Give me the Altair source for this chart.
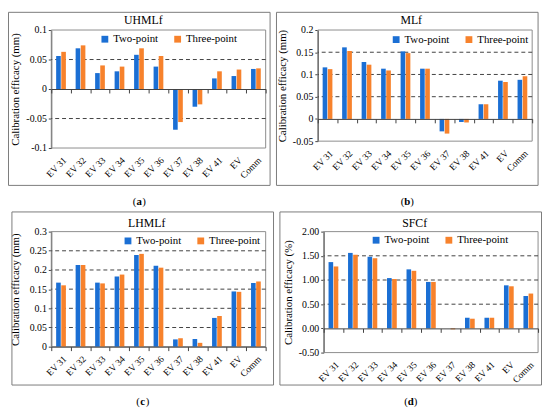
import altair as alt
import pandas as pd

categories = ["EV 31", "EV 32", "EV 33", "EV 34", "EV 35", "EV 36", "EV 37", "EV 38", "EV 41", "EV", "Comm"]
series_names = ["Two-point", "Three-point"]
series_colors = ["#1b6fd4", "#f7822c"]

panel_titles = ["UHMLf", "MLf", "LHMLf", "SFCf"]
panel_letters = ["a", "b", "c", "d"]
y_titles = ["Calibration efficacy (mm)", "Calibration efficacy (mm)",
            "Calibration efficacy (mm)", "Calibration efficacy (%)"]

uhml_two = [0.056, 0.069, 0.027, 0.030, 0.058, 0.038, -0.069, -0.030, 0.018, 0.022, 0.034]
uhml_three = [0.063, 0.074, 0.040, 0.038, 0.069, 0.056, -0.056, -0.026, 0.030, 0.033, 0.035]
ml_two = [0.116, 0.161, 0.128, 0.113, 0.152, 0.113, -0.028, -0.007, 0.033, 0.086, 0.088]
ml_three = [0.112, 0.153, 0.122, 0.109, 0.148, 0.113, -0.033, -0.008, 0.033, 0.083, 0.096]
lhml_two = [0.167, 0.213, 0.167, 0.183, 0.239, 0.211, 0.019, 0.020, 0.075, 0.144, 0.166]
lhml_three = [0.160, 0.213, 0.165, 0.188, 0.242, 0.206, 0.022, 0.010, 0.080, 0.143, 0.170]
sfc_two = [1.37, 1.56, 1.48, 1.04, 1.22, 0.96, 0.00, 0.22, 0.22, 0.89, 0.67]
sfc_three = [1.28, 1.52, 1.45, 1.02, 1.19, 0.96, -0.02, 0.20, 0.22, 0.87, 0.72]

y_tick_values = [
    [-0.1, -0.05, 0, 0.05, 0.1],
    [-0.05, 0, 0.05, 0.1, 0.15, 0.2],
    [0, 0.05, 0.1, 0.15, 0.2, 0.25, 0.3],
    [-0.5, 0, 0.5, 1.0, 1.5, 2.0],
]
dashed_grid_values = [
    [-0.05, 0.05],
    [0.05, 0.1, 0.15],
    [0.05, 0.1, 0.15, 0.2, 0.25],
    [0.5, 1.0, 1.5],
]
label_formats = [".2~f", ".2~f", ".2~f", ".2f"]

FONT = "Liberation Serif"
W = 218
# H: plot height, L/R/T/B: border distance from plot area, tdy: title y, (lx, ly): legend
layouts = [
    dict(H=120, L=43.5, R=4.5, T=18, B=38, tdy=-10, lx=52.5, ly=9.6),
    dict(H=113, L=42, R=6, T=18, B=45, tdy=-10, lx=77.7, ly=10),
    dict(H=117, L=40, R=8, T=20, B=39, tdy=-8.5, lx=76, ly=9.7),
    dict(H=123, L=44.5, R=3.5, T=20, B=33, tdy=-9, lx=51.3, ly=9),
]


def panel(i, two, three):
    p = layouts[i]
    H, L, R, T, B = p["H"], p["L"], p["R"], p["T"], p["B"]
    ticks = y_tick_values[i]
    ymin, ymax = ticks[0], ticks[-1]
    zero_off = H * (0 - ymin) / (ymax - ymin)
    yscale = alt.Scale(domain=[ymin, ymax], nice=False, zero=False)

    df = pd.DataFrame({
        "cat": categories * 2,
        "series": [series_names[0]] * len(categories) + [series_names[1]] * len(categories),
        "value": two + three,
    })

    fmt = label_formats[i]
    yaxis = alt.Axis(values=ticks, grid=False, title=y_titles[i], titleFont=FONT,
                     titleFontSize=11, titleFontWeight="normal", titleColor="black",
                     titleX=-36, titleY=H / 2, titleBaseline="middle", titleAlign="center",
                     labelExpr="replace(format(datum.value, '%s'), '\u2212', '-')" % fmt,
                     domainColor="#404040", tickColor="#404040", tickSize=3,
                     labelPadding=2, labelFont=FONT, labelFontSize=10, labelColor="black")

    bars = alt.Chart(df).mark_bar().encode(
        x=alt.X("cat:N", sort=categories,
                scale=alt.Scale(paddingInner=0, paddingOuter=0),
                axis=alt.Axis(title=None, orient="bottom", labelAngle=-45,
                              offset=-zero_off, domainColor="#404040",
                              tickColor="#404040", tickSize=4, tickBand="extent",
                              labelPadding=zero_off + 3, labelFont=FONT,
                              labelFontSize=9.5, labelColor="black", zindex=1)),
        xOffset=alt.XOffset("series:N", sort=series_names,
                            scale=alt.Scale(paddingInner=0.1, paddingOuter=0.95)),
        y=alt.Y("value:Q", scale=yscale, axis=yaxis),
        color=alt.Color("series:N",
                        scale=alt.Scale(domain=series_names, range=series_colors),
                        legend=alt.Legend(orient="none", legendX=p["lx"] - 3.5,
                                          legendY=p["ly"] - 6, direction="horizontal",
                                          title=None, symbolType="square",
                                          symbolSize=48, symbolStrokeWidth=0,
                                          labelFont=FONT, labelFontSize=11,
                                          labelColor="black", columnPadding=14,
                                          labelOffset=3, padding=0)),
    )

    grid = alt.Chart(pd.DataFrame({"value": dashed_grid_values[i]})).mark_rule(
        strokeDash=[4, 3], color="#404040", strokeWidth=1
    ).encode(y=alt.Y("value:Q", scale=yscale, axis=yaxis))

    border = alt.Chart(pd.DataFrame({"b": [0]})).mark_rect(
        fillOpacity=0, stroke="#7a7a7a", strokeWidth=1
    ).encode(x=alt.value(-L), x2=alt.value(W + R), y=alt.value(-T), y2=alt.value(H + B))

    frame = alt.Chart(pd.DataFrame({"b": [0]})).mark_rect(
        fillOpacity=0, stroke="#8c8c8c", strokeWidth=1
    ).encode(x=alt.value(0), x2=alt.value(W), y=alt.value(0), y2=alt.value(H))

    cx = (-L + W + R) / 2
    title = alt.Chart(pd.DataFrame({"t": [panel_titles[i]]})).mark_text(
        font=FONT, fontSize=12, color="black", baseline="middle", align="center"
    ).encode(text="t:N", x=alt.value(cx + 4), y=alt.value(p["tdy"]))

    cap_y = H + B + 17
    cap_l = alt.Chart(pd.DataFrame({"t": ["("]})).mark_text(
        font=FONT, fontSize=11, color="black", baseline="middle", align="right"
    ).encode(text="t:N", x=alt.value(cx - 3), y=alt.value(cap_y))
    cap_m = alt.Chart(pd.DataFrame({"t": [panel_letters[i]]})).mark_text(
        font=FONT, fontSize=11, fontWeight="bold", color="black", baseline="middle", align="center"
    ).encode(text="t:N", x=alt.value(cx), y=alt.value(cap_y))
    cap_r = alt.Chart(pd.DataFrame({"t": [")"]})).mark_text(
        font=FONT, fontSize=11, color="black", baseline="middle", align="left"
    ).encode(text="t:N", x=alt.value(cx + 3), y=alt.value(cap_y))

    return alt.layer(border, frame, grid, bars, title, cap_l, cap_m, cap_r).properties(width=W, height=H)


pa = panel(0, uhml_two, uhml_three)
pb = panel(1, ml_two, ml_three)
pc = panel(2, lhml_two, lhml_three)
pd_ = panel(3, sfc_two, sfc_three)

row1 = alt.hconcat(pa, pb, spacing=5).resolve_scale(color="independent").resolve_legend(color="independent")
row2 = alt.hconcat(pc, pd_, spacing=5).resolve_scale(color="independent").resolve_legend(color="independent")

chart = alt.vconcat(row1, row2, spacing=4).resolve_scale(
    color="independent"
).resolve_legend(color="independent").properties(
    padding={"left": 0, "top": 0, "right": 0, "bottom": 0}
).configure_view(
    strokeWidth=0
).configure_axis(
    labelFont=FONT, titleFont=FONT
).configure_legend(
    labelFont=FONT, titleFont=FONT
).configure_text(
    font=FONT
)

chart.save("out.html", embed_options={"renderer": "svg", "actions": False})
